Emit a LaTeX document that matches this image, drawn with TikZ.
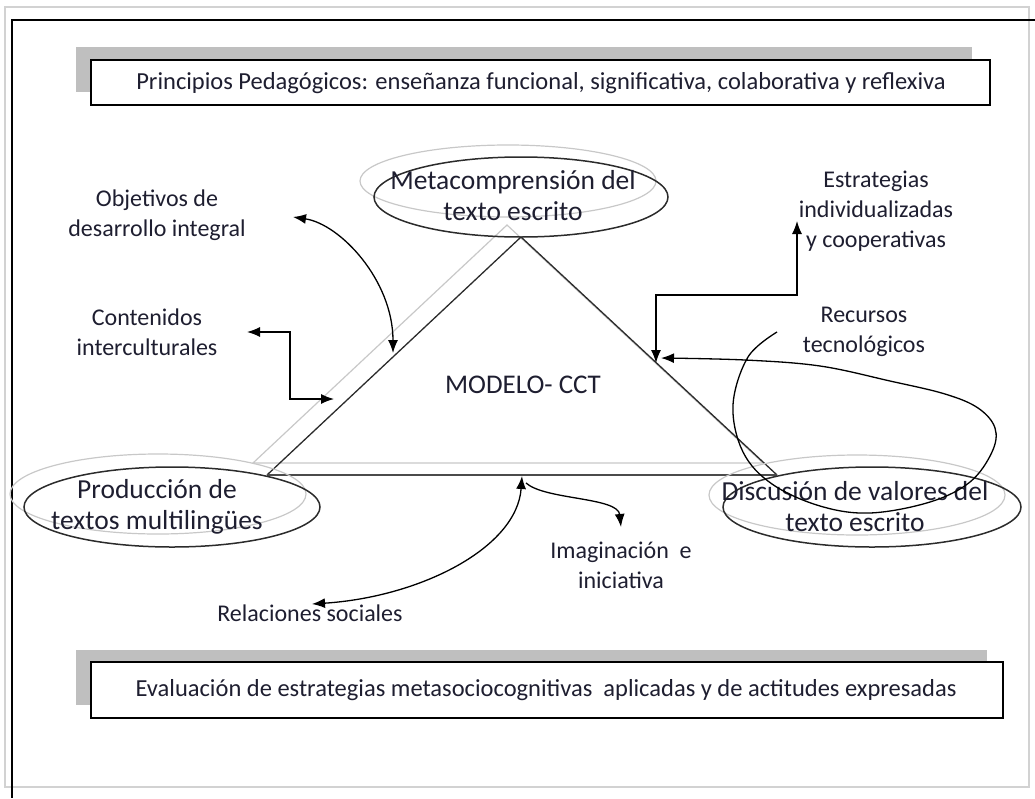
\documentclass[tikz,border=0pt]{standalone}
\usepackage{fontspec}
\setmainfont{Carlito}
\usetikzlibrary{calc,arrows.meta}
\definecolor{framegray}{HTML}{D2D2D2}
\definecolor{bargray}{HTML}{BFBFBF}
\definecolor{shadowgray}{HTML}{C8C8C8}
\definecolor{inkcolor}{HTML}{2B2B2B}
\definecolor{txtcolor}{HTML}{1E1E30}

\begin{document}
\begin{tikzpicture}[x=1pt,y=-1pt,>={Latex[length=13pt,width=10pt]},
  lbl/.style={align=center,text=txtcolor,font=\fontsize{24}{30}\selectfont},
  ovaltext/.style={align=center,text=txtcolor,font=\fontsize{27.5}{31}\selectfont},
  boxtext/.style={text=txtcolor,font=\fontsize{24.5}{28}\selectfont},
  conn/.style={line width=1.3pt,black}]
  \useasboundingbox (0,0) rectangle (1035,798);
  % page frame
  \draw[framegray,line width=1.2pt] (5,7) rectangle (1029,787);
  \draw[line width=1.4pt] (1035,20) -- (12,20) -- (12,798);
  % top box with shadow
  \fill[bargray] (76,47) rectangle (972,92);
  \draw[fill=white,line width=1.2pt] (91,60) rectangle (990,105);
  \node[boxtext] (princ) at (541,83) {Principios Pedagógicos: enseñanza funcional, significativa, colaborativa y reflexiva};
  % bottom box with shadow
  \fill[bargray] (76,650) rectangle (987,705);
  \draw[fill=white,line width=1.2pt] (91,662) rectangle (1003,718);
  \node[boxtext] (evalu) at (546,690) {Evaluación de estrategias metasociocognitivas\ \ aplicadas y de actitudes expresadas};
  % triangle and its shadow
  \coordinate (A) at (521,237); \coordinate (B) at (267,475); \coordinate (C) at (777,475);
  \coordinate (O) at (-14,-12);
  \draw[shadowgray,line width=1.2pt] ($ (A) + (O) $) -- ($ (B) + (O) $) -- ($ (C) + (O) $) -- cycle;
  \draw[inkcolor,line width=1.3pt] (C) -- (A) -- (B);
  \draw[inkcolor!85,line width=2pt] (B) -- (C);
  \node[ovaltext,font=\fontsize{27}{31}\selectfont] (modelo) at (523,385) {MODELO- CCT};
  % ovals at the corners
  \draw[shadowgray,line width=1.2pt] (508,181) ellipse (148pt and 36pt);
  \draw[inkcolor,line width=1.5pt] (521,197) ellipse (147pt and 40pt);
  \node[ovaltext] (meta) at (513,196) {Metacomprensión del\\texto escrito};
  \draw[shadowgray,line width=1.2pt] (158,494) ellipse (148pt and 40pt);
  \draw[inkcolor,line width=1.5pt] (172,507) ellipse (148pt and 40pt);
  \node[ovaltext] (prod) at (157,507) {Producción de\\textos multilingües};
  \draw[shadowgray,line width=1.2pt] (857,495) ellipse (148pt and 40pt);
  \draw[inkcolor,line width=1.5pt] (872,507) ellipse (149pt and 40pt);
  \node[ovaltext] (discu) at (855,507) {Discusión de valores del\\texto escrito};
  % labels around the model
  \node[lbl] (objet) at (157,215) {Objetivos de\\desarrollo integral};
  \node[lbl] (conte) at (147,332) {Contenidos\\interculturales};
  \node[lbl] (estra) at (876,211) {Estrategias\\individualizadas\\y cooperativas};
  \node[lbl] (recur) at (864,332) {Recursos\\tecnológicos};
  \node[lbl] (imagi) at (621,565) {Imaginación\ \ e\\iniciativa};
  \node[lbl] (relac) at (310,613) {Relaciones sociales};
  % arrows on the left side
  \coordinate (objEnd) at (293,217); \coordinate (objTip) at (393,353);
  \draw[conn,<->] (objEnd) .. controls (340,224) and (393,280) .. (objTip);
  \coordinate (conEnd) at (247,332); \coordinate (conTip) at (334,399);
  \draw[conn,<->] (conEnd) -- (290,332) |- (conTip);
  % arrows on the right side
  \coordinate (estEnd) at (797,221); \coordinate (estTip) at (656,363);
  \draw[conn,<->] (estEnd) |- (656,295) -- (estTip);
  \coordinate (recStart) at (777,332); \coordinate (recTip) at (661,358);
  \draw[conn,->] plot[smooth,tension=0.6] coordinates{(recStart) (748,357) (733,405) (743,452) (772,484) (820,506) (870,513) (930,502) (970,482) (992,452) (995,428) (978,408) (945,394) (890,381) (820,366) (745,360) (recTip)};
  % arrows under the base
  \coordinate (baseTip) at (522,476); \coordinate (relEnd) at (312,604);
  \draw[conn,<->] (relEnd) .. controls (420,597) and (517,548) .. (baseTip);
  \coordinate (imgStart) at (526,483); \coordinate (imgTip) at (621,527);
  \draw[conn,->] (imgStart) .. controls (545,500) and (618,497) .. (imgTip);
\end{tikzpicture}
\end{document}
